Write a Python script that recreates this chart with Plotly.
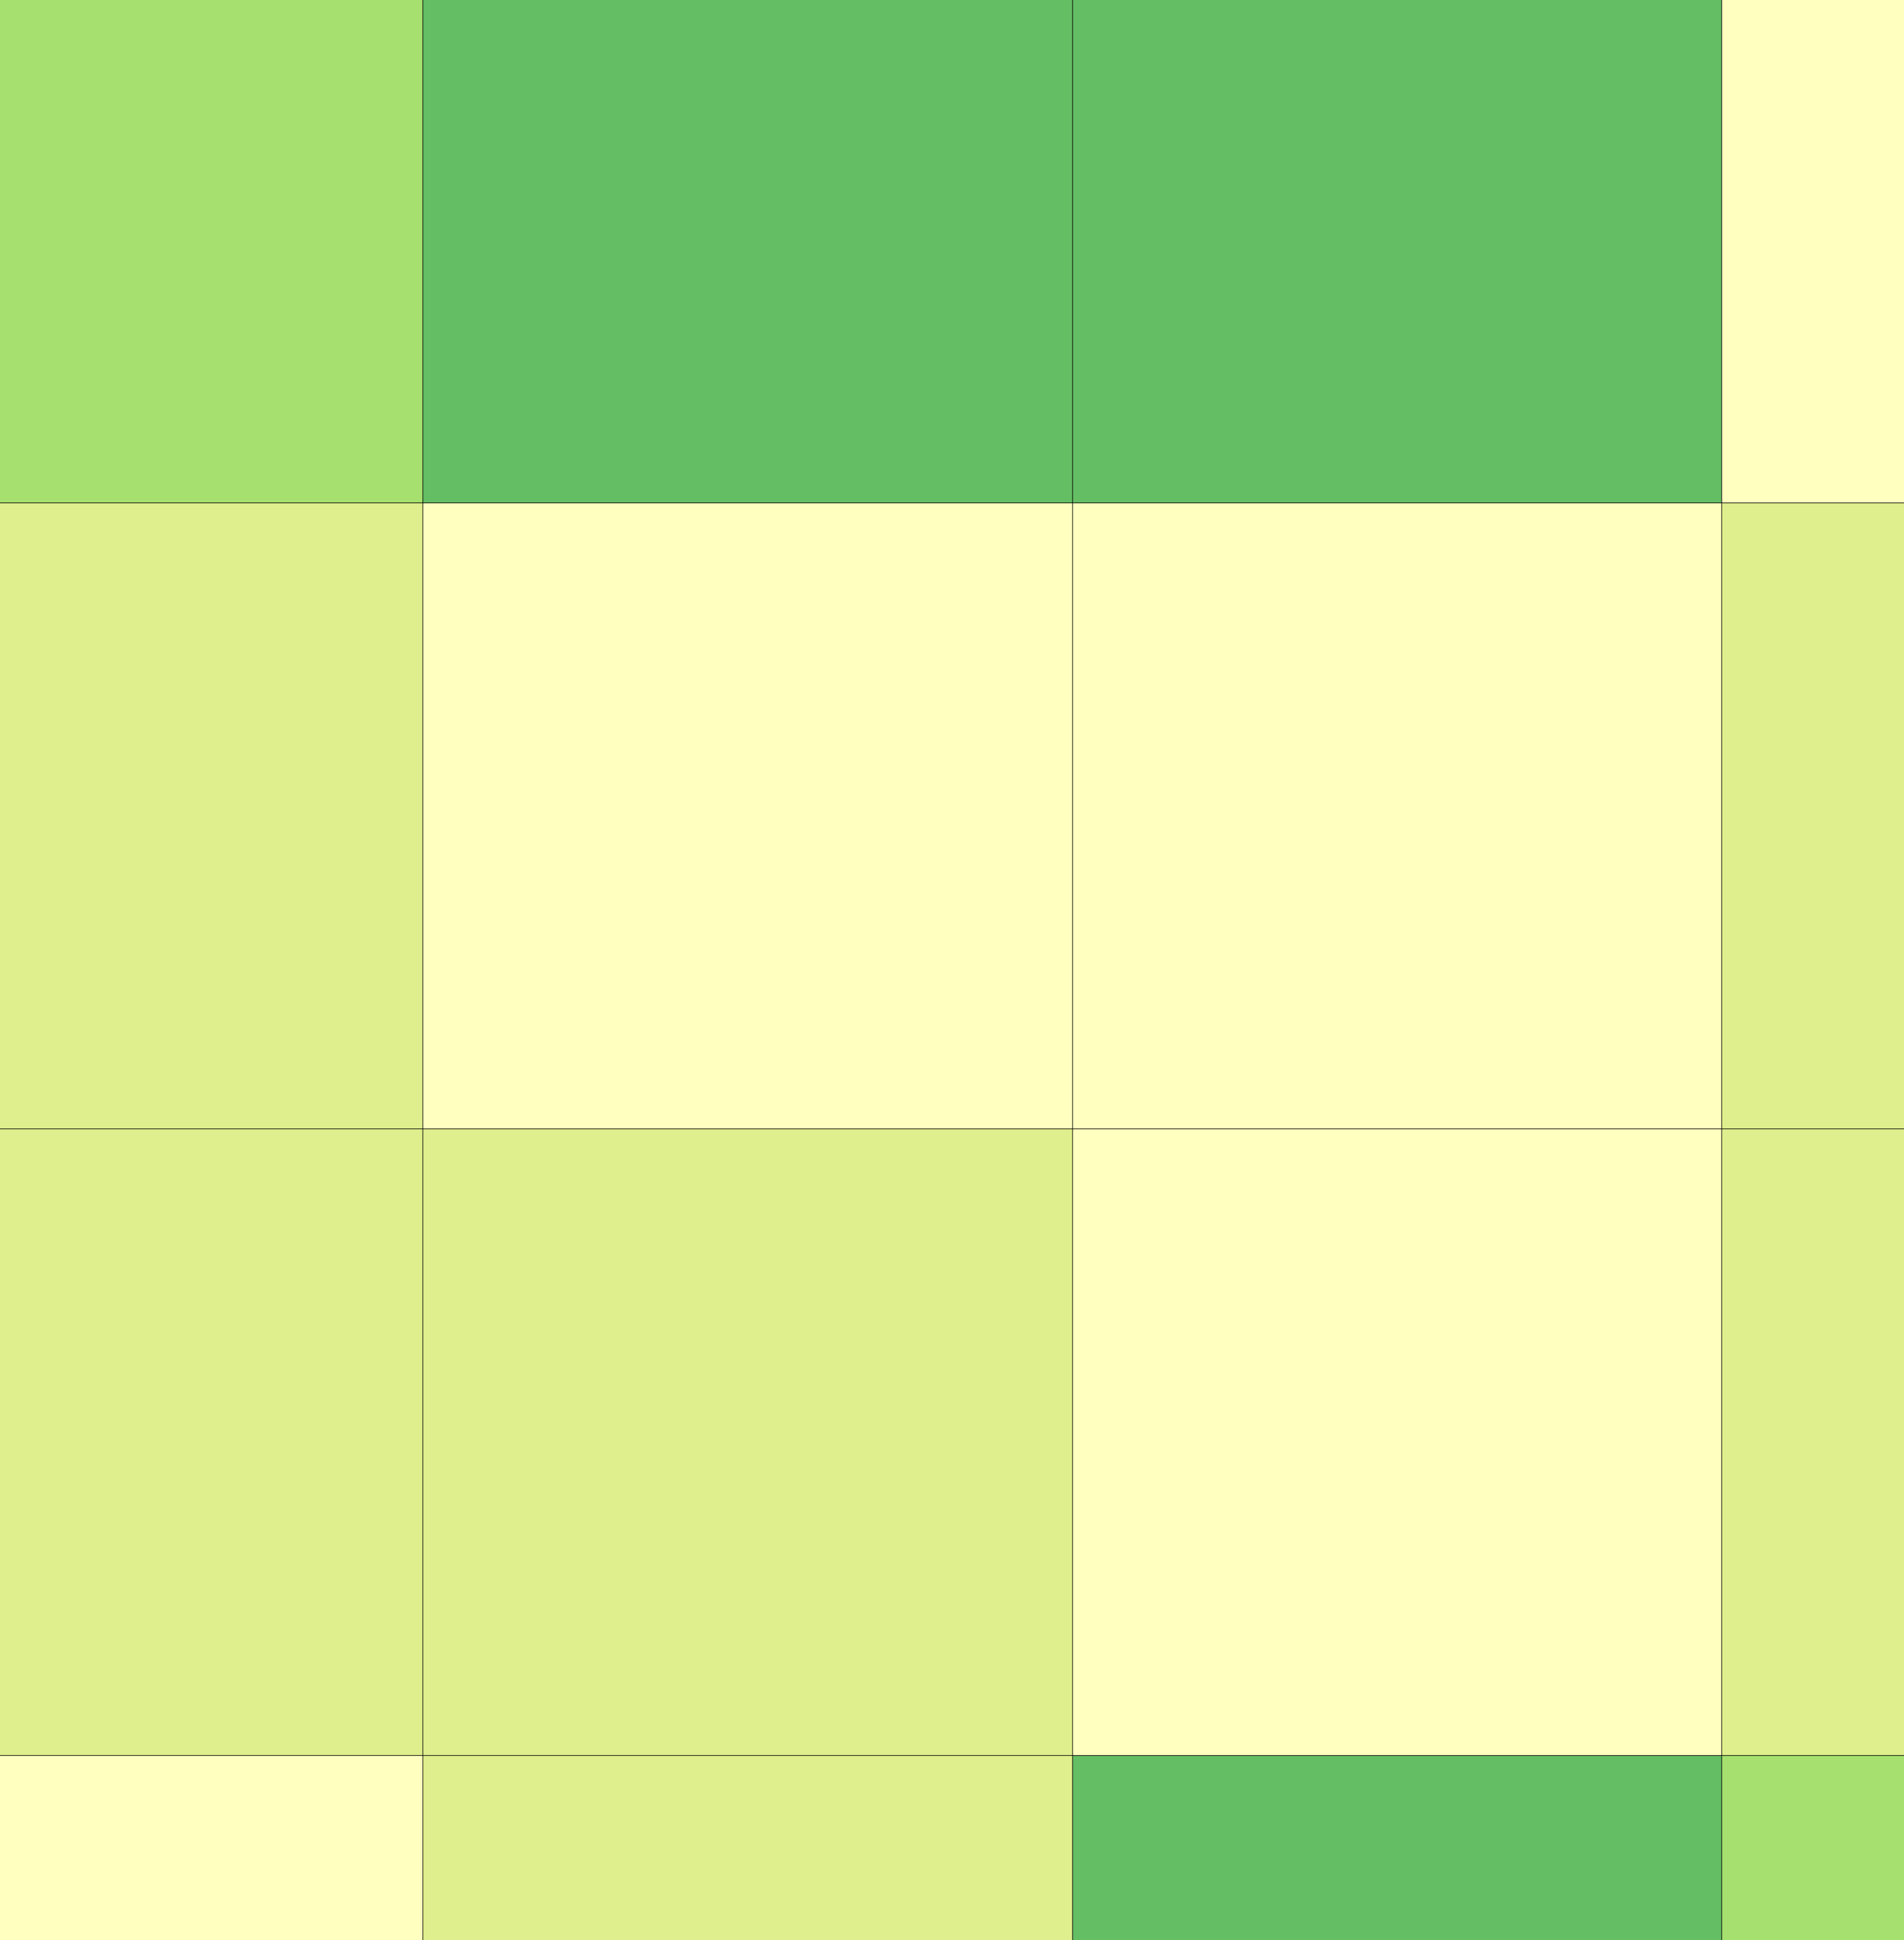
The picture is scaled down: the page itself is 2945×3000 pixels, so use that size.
import plotly.graph_objects as go

# categories (column / row indices of the visible cells)
cols = [0, 1, 2, 3]
rows = [0, 1, 2, 3]

# level of each cell (0 = palest, 3 = darkest green)
row0 = [2, 3, 3, 0]
row1 = [1, 0, 0, 1]
row2 = [1, 1, 0, 1]
row3 = [0, 1, 3, 2]

z = [row0, row1, row2, row3]

palette = ["#ffffc0", "#dfef8d", "#a6e06e", "#64be64"]
colorscale = [
    [0.0, palette[0]], [1/6, palette[0]],
    [1/6, palette[1]], [0.5, palette[1]],
    [0.5, palette[2]], [5/6, palette[2]],
    [5/6, palette[3]], [1.0, palette[3]],
]

fig = go.Figure(go.Heatmap(
    x=cols, y=rows, z=z,
    zmin=0, zmax=3,
    colorscale=colorscale,
    showscale=False,
    xgap=1, ygap=1,
    hoverinfo="skip",
))

W, H = 2945, 3000
fig.update_layout(
    width=W, height=H,
    margin=dict(l=0, r=0, t=0, b=0, pad=0),
    paper_bgcolor="#000000",
    plot_bgcolor="#000000",
    showlegend=False,
)
fig.update_xaxes(visible=False, range=[-0.152, 2.780], showgrid=False, zeroline=False)
fig.update_yaxes(visible=False, range=[2.794, -0.303], showgrid=False, zeroline=False)

fig.write_html("out.html")
